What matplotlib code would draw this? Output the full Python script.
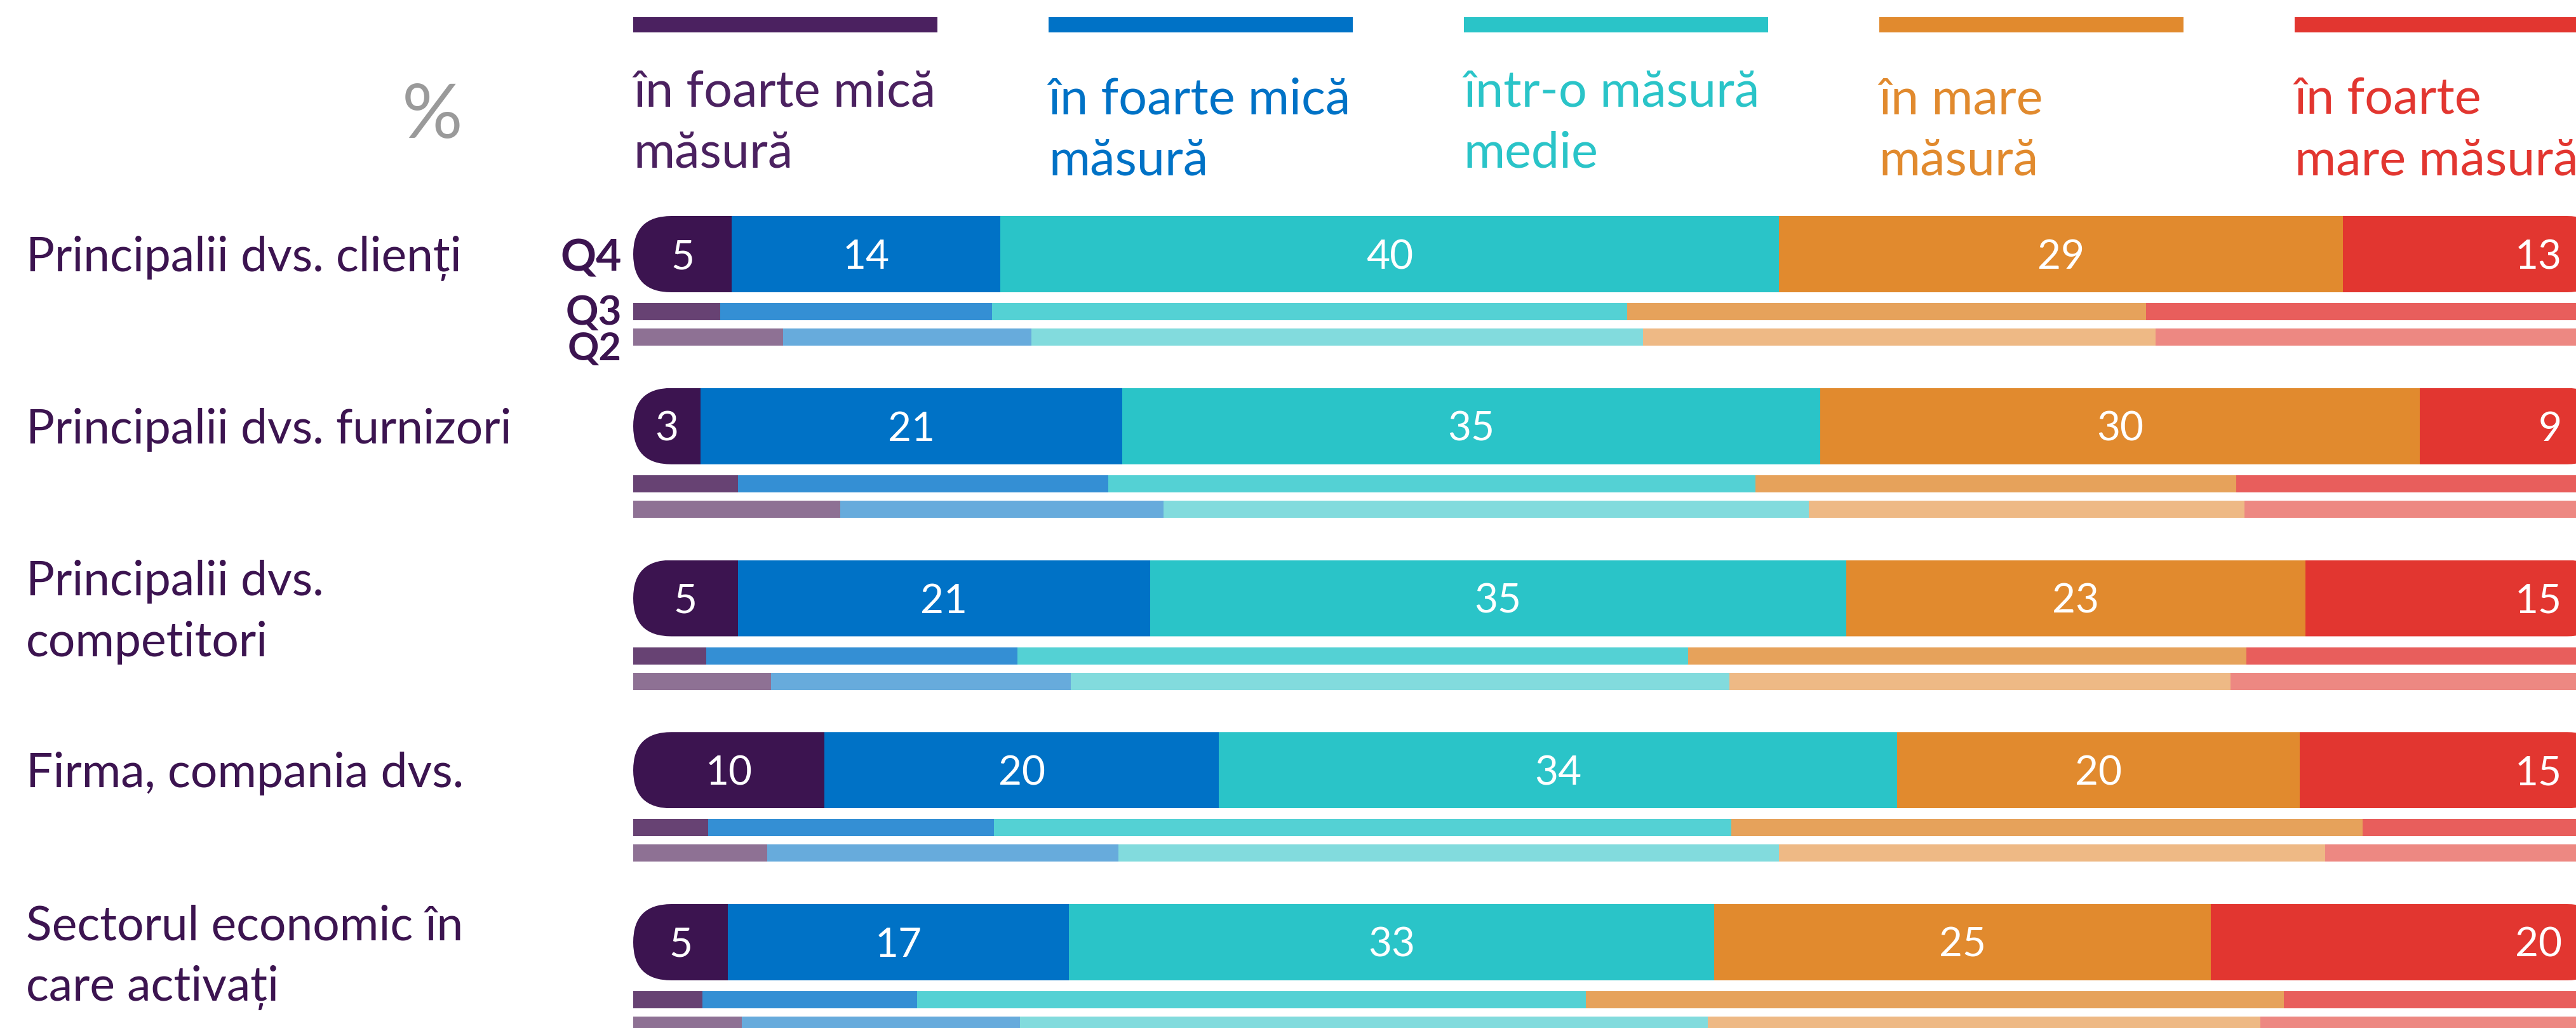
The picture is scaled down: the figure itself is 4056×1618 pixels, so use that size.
import matplotlib
matplotlib.use("Agg")
import matplotlib.pyplot as plt
from matplotlib import font_manager
from matplotlib.patches import FancyBboxPatch

# pick a humanist sans that is installed
installed = {f.name for f in font_manager.fontManager.ttflist}
FONT = next((n for n in ["Lato", "Roboto", "Open Sans", "DejaVu Sans"] if n in installed), "DejaVu Sans")
plt.rcParams["font.family"] = [FONT, "DejaVu Sans"]
TXT_W = "normal"

# ---- data ----
rows = [
    "Principalii dvs. clienți",
    "Principalii dvs. furnizori",
    "Principalii dvs.\ncompetitori",
    "Firma, compania dvs.",
    "Sectorul economic în\ncare activați",
]
levels = [
    "în foarte mică\nmăsură",
    "în foarte mică\nmăsură",
    "într-o măsură\nmedie",
    "în mare\nmăsură",
    "în foarte\nmare măsură",
]
quarters = ["Q4", "Q3", "Q2"]

q4 = [
    [5.0, 13.6, 39.5, 28.6, 13.3],
    [3.4, 21.4, 35.4, 30.4, 9.4],
    [5.3, 20.9, 35.3, 23.3, 15.2],
    [9.7, 20.0, 34.4, 20.4, 15.4],
    [4.8, 17.3, 32.7, 25.2, 20.0],
]
q3 = [
    [4.4, 13.8, 32.2, 26.3, 23.3],
    [5.3, 18.8, 32.8, 24.4, 18.7],
    [3.7, 15.8, 34.0, 28.3, 18.2],
    [3.8, 14.5, 37.4, 32.0, 12.3],
    [3.5, 10.9, 33.9, 35.4, 16.3],
]
q2 = [
    [7.6, 12.6, 31.0, 26.0, 22.8],
    [10.5, 16.4, 32.7, 22.1, 18.3],
    [7.0, 15.2, 33.4, 25.4, 19.0],
    [6.8, 17.8, 33.5, 27.7, 14.2],
    [5.5, 14.1, 34.9, 28.0, 17.5],
]

# ---- style ----
legend_colors = ["#4b2160", "#0072c6", "#2ac4c8", "#e18a2e", "#e23630"]
q4_colors = ["#3c1450", "#0072c6", "#2ac4c8", "#e18a2e", "#e23630"]
q3_colors = ["#674273", "#348fd4", "#54d1d4", "#e6a25b", "#e85e5c"]
q2_colors = ["#8e7194", "#67abdc", "#82dbdd", "#eeb985", "#ed8882"]
DARK = "#3c1450"

W, H, DPI = 4056, 1618, 100
X0, PCT = 997, 31.05          # pixel of 0 %, pixels per 1 %
C0, STEP = 400, 270.75        # centre of first Q4 bar, row spacing (px)
BIG_H, THIN_H = 120, 27
Q3_OFF, Q2_OFF = 90.5, 130.5
LEG_STEP, LEG_W = 21.06, 15.43

fig = plt.figure(figsize=(W / DPI, H / DPI), dpi=DPI)
ax = fig.add_axes([X0 / W, 0, 100 * PCT / W, 1])
ax.set_xlim(0, 100)
ax.set_ylim(H, 0)
ax.axis("off")


def fpos(x, y):
    return x / W, 1 - y / H


def stacked(vals, y, h, colors, clip=None):
    left = 0
    bars = []
    for v, c in zip(vals, colors):
        b = ax.barh(y, v, left=left, height=h, color=c, linewidth=0)[0]
        if clip is not None:
            b.set_clip_path(clip)
        bars.append((left, v))
        left += v
    return bars


for i, label in enumerate(rows):
    c = C0 + i * STEP
    pill = FancyBboxPatch((0, c - BIG_H / 2), 100, BIG_H,
                          boxstyle=f"round,pad=0,rounding_size={BIG_H / 2 / PCT}",
                          mutation_aspect=PCT, transform=ax.transData,
                          facecolor="none", edgecolor="none")
    segs = stacked(q4[i], c, BIG_H, q4_colors, clip=pill)
    stacked(q3[i], c + Q3_OFF, THIN_H, q3_colors)
    stacked(q2[i], c + Q2_OFF, THIN_H, q2_colors)

    for k, ((left, v), val) in enumerate(zip(segs, q4[i])):
        if k == len(segs) - 1:
            ax.text(97.8, c + 23, f"{val:.0f}", ha="right", va="baseline",
                    color="white", fontsize=46, fontweight=TXT_W)
        else:
            ax.text(left + v / 2, c + 23, f"{val:.0f}", ha="center", va="baseline",
                    color="white", fontsize=46, fontweight=TXT_W)

    lines = label.split("\n")
    base = c + 27 if len(lines) == 1 else c - 4
    for j, line in enumerate(lines):
        fig.text(*fpos(41, base + j * 96), line, ha="left", va="baseline",
                 color=DARK, fontsize=54, fontweight=TXT_W)

# quarter tags beside the first group
for q, dy, fs in zip(quarters, [27, 111, 167], [50, 46, 44]):
    fig.text(*fpos(979, C0 + dy), q, ha="right", va="baseline",
             color=DARK, fontsize=fs, fontweight="bold")

# legend: bar + two-line caption per level
leg_shift = [0, 12, 0, 12, 12]
for k, (lev, col) in enumerate(zip(levels, legend_colors)):
    ax.barh(39, LEG_W, left=k * LEG_STEP, height=24, color=col, linewidth=0, clip_on=False)
    xpx = X0 + k * LEG_STEP * PCT
    for j, line in enumerate(lev.split("\n")):
        fig.text(*fpos(xpx, 167 + leg_shift[k] + j * 96), line, ha="left", va="baseline",
                 color=col, fontsize=57, fontweight=TXT_W)

fig.text(*fpos(728, 217), "%", ha="right", va="baseline",
         color="#9a9a9a", fontsize=86, fontweight=TXT_W)

fig.savefig("out.png", dpi=DPI)
